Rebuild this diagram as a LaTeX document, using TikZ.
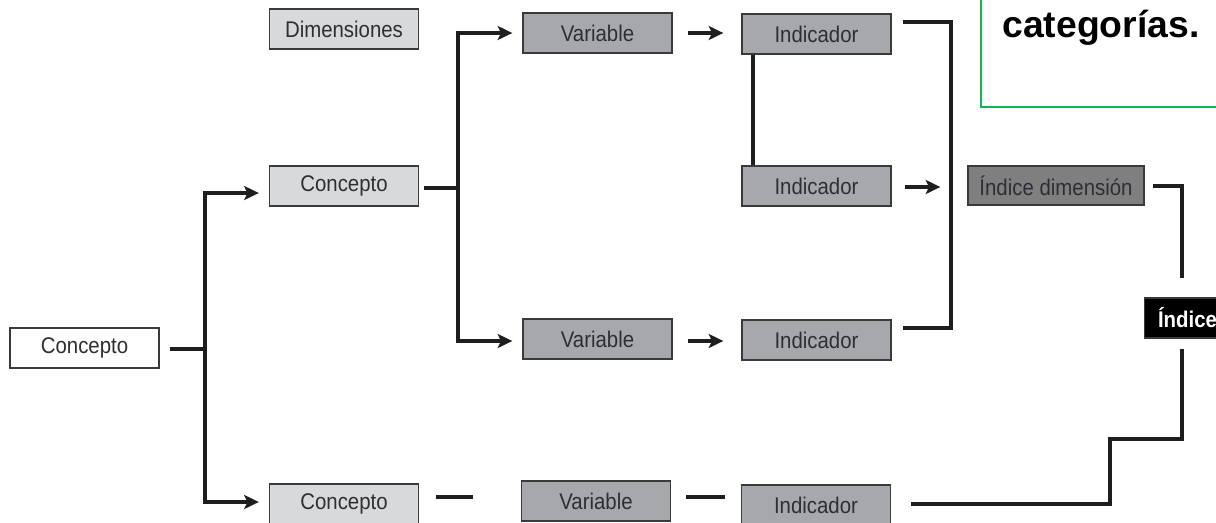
\documentclass[tikz,border=0pt]{standalone}
\usepackage{fontspec}
\setmainfont{Liberation Sans}[FakeStretch=0.9]
\newfontfamily\catfont{Liberation Sans}
\usetikzlibrary{arrows.meta,calc}
\definecolor{lightg}{HTML}{D8D9DB}
\definecolor{midg}{HTML}{A7A8AB}
\definecolor{darkg}{HTML}{7F7F80}
\definecolor{bordercol}{HTML}{3A3A3A}
\definecolor{txt}{HTML}{2E2E34}
\definecolor{linecol}{HTML}{1E1E1E}
\definecolor{greenb}{RGB}{20,180,80}
\tikzset{
  box/.style={draw=bordercol, line width=1pt, minimum width=111.75pt, minimum height=30pt,
    inner sep=0pt, text=txt, font=\fontsize{17}{20}\selectfont},
  lightbox/.style={box, fill=lightg},
  midbox/.style={box, fill=midg},
  whitebox/.style={box, fill=white},
  dimbox/.style={box, fill=darkg, minimum width=132pt, minimum height=29.25pt},
  idxbox/.style={draw=bordercol, line width=1pt, fill=black, text=white, minimum height=30pt,
    text width=62pt, align=left, inner xsep=10pt, inner ysep=0pt, font=\bfseries\fontsize{17}{20}\selectfont},
  conn/.style={draw=linecol, line width=3pt},
  arr/.style={conn, -{Stealth[length=11pt,width=10.5pt,inset=2.5pt]}},
  catbox/.style={draw=greenb, line width=1.2pt},
  cattext/.style={font=\catfont\bfseries\fontsize{28}{32}\selectfont, text=black, inner sep=0pt}
}
\begin{document}
\begin{tikzpicture}[x=0.75pt,y=-0.75pt]
\useasboundingbox (0,0) rectangle (1216,522);
% green note box (cropped)
\draw[catbox] (981,-20) rectangle (1240,107);
\node[cattext] (cat) at (1101,28) {categorías.};
% nodes
\node[lightbox] (dim) at (344,29) {Dimensiones};
\node[whitebox] (c0) at (84.5,348) {Concepto};
\node[lightbox] (c1) at (344,186) {Concepto};
\node[lightbox] (c2) at (344,504) {Concepto};
\node[midbox] (v1) at (597.5,33) {Variable};
\node[midbox] (v2) at (597.5,339) {Variable};
\node[midbox] (v3) at (596,501) {Variable};
\node[midbox] (i1) at (816.5,34) {Indicador};
\node[midbox] (i2) at (816.5,186) {Indicador};
\node[midbox] (i3) at (816.5,340) {Indicador};
\node[midbox] (i4) at (816,505) {Indicador};
\node[dimbox] (id) at (1056,185.5) {Índice dimensión};
\node[idxbox, anchor=west] (idx) at (1144,318) {Índice};
% junctions
\coordinate (ja) at (205,349);
\coordinate (jb) at (458,188);
\coordinate (k1) at (1182,439);
\coordinate (k2) at (1110,504);
% connectors level 1
\draw[conn] ($(c0.east)+(10,1)$) -- (ja);
\draw[arr] (ja) |- ($(c1.west)+(-10,7)$);
\draw[arr] (ja) |- ($(c2.west)+(-10,-2)$);
% level 2
\draw[conn] ($(c1.east)+(5,2)$) -- (jb);
\draw[arr] (jb) |- ($(v1.west)+(-10,0)$);
\draw[arr] (jb) |- ($(v2.west)+(-10,2)$);
% variable -> indicador
\draw[arr] ($(v1.east)+(15,0)$) -- ($(i1.west)+(-18,-1)$);
\draw[arr] ($(v2.east)+(15,2)$) -- ($(i3.west)+(-18,1)$);
% indicador link
\draw[conn] ($(i1.south west)+(12,0)$) -- ($(i2.north west)+(12,0)$);
% bracket
\draw[conn] ($(i1.east)+(11,-12)$) -| ($(i3.east)+(59,-12)$) -- ($(i3.east)+(11,-12)$);
% indicador -> indice dimension
\draw[arr] ($(i2.east)+(13,1)$) -- ($(id.west)+(-27,1.5)$);
% indice dimension -> indice
\draw[conn] ($(id.east)+(8,0)$) -| ($(idx.north west)+(38,-19)$);
% indice -> bottom indicador
\draw[conn] ($(idx.south west)+(38,10)$) -- (k1) -| (k2) -- ($(i4.east)+(20,-1)$);
% bottom row
\draw[conn] ($(c2.east)+(17,-7)$) -- ($(v3.west)+(-48,-4)$);
\draw[conn] ($(v3.east)+(15,-4)$) -- ($(i4.west)+(-16,-8)$);
\end{tikzpicture}
\end{document}
